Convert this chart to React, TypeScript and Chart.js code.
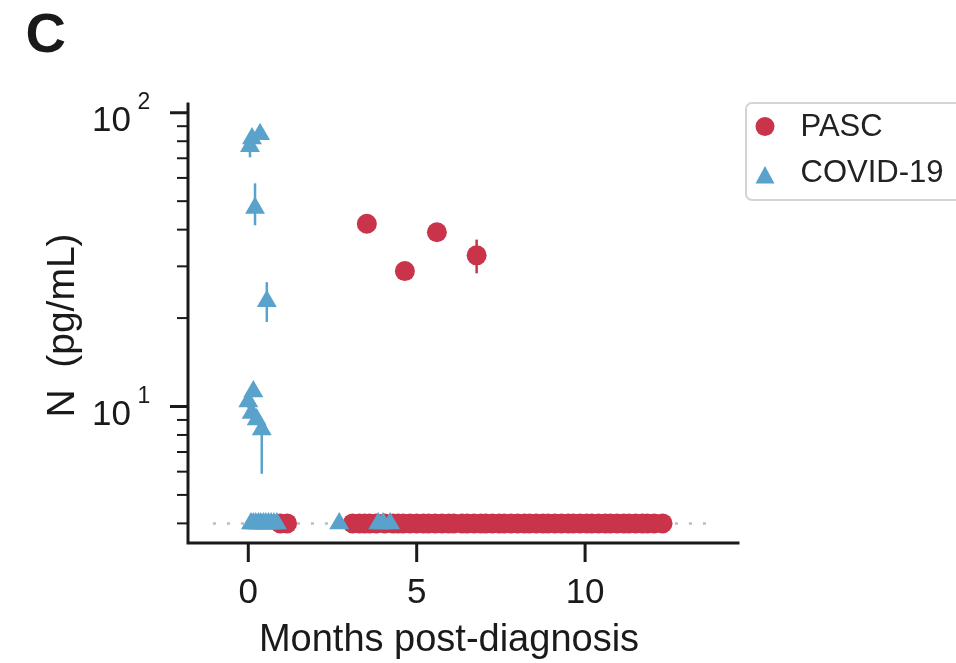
import React, { useEffect, useRef } from 'react';
import { Chart, registerables } from 'chart.js';

Chart.register(...registerables);

// ---------- text ----------
const PANEL_LABEL = 'C';
const X_TITLE = 'Months post-diagnosis';
const Y_TITLE = 'N  (pg/mL)';
const SERIES_NAMES = ['PASC', 'COVID-19'];

// ---------- axes ----------
const X_MIN = -1.79;
const X_MAX = 14.54;
const Y_MIN = 3.43;
const Y_MAX = 107.1;
const X_TICKS = [0, 5, 10];
const Y_MAJOR = [10, 100];
const Y_MAJOR_EXP = ['1', '2'];
const Y_MINOR = [4, 5, 6, 7, 8, 9, 20, 30, 40, 50, 60, 70, 80, 90];

// ---------- limit of detection ----------
const LOD = 4;
const LOD_X = [-1.05, 13.6];

// ---------- PASC (circles) ----------
const PASC_X = [3.52, 4.65, 5.6, 6.78];
const PASC_Y = [41.9, 28.9, 39.2, 32.7];
const PASC_LO = [41.9, 28.9, 39.2, 28.4];
const PASC_HI = [41.9, 28.9, 39.2, 37.0];
const PASC_LOD_X = [
  0.95, 1.15, 3.1, 3.3, 3.45, 3.6, 3.8, 4.05, 4.3, 4.45, 4.6, 4.8, 5.0, 5.2, 5.35, 5.55,
  5.75, 5.95, 6.1, 6.35, 6.5, 6.7, 6.9, 7.05, 7.25, 7.45, 7.6, 7.8, 8.0, 8.2, 8.35, 8.55,
  8.75, 8.9, 9.1, 9.3, 9.5, 9.65, 9.85, 10.05, 10.2, 10.4, 10.6, 10.75, 10.95, 11.15,
  11.3, 11.5, 11.7, 11.85, 12.05, 12.3,
];

// ---------- COVID-19 (triangles) ----------
const COVID_X = [0.05, 0.11, 0.35, 0.2, 0.55, 0.0, 0.15, 0.1, 0.25, 0.4];
const COVID_Y = [76.9, 81.8, 84.5, 47.4, 22.8, 10.4, 11.25, 9.5, 9.03, 8.35];
const COVID_LO = [70.5, 79.0, 82.0, 41.4, 19.4, 9.9, 10.9, 9.2, 8.7, 5.9];
const COVID_HI = [83.0, 84.5, 87.0, 57.5, 26.5, 10.9, 11.6, 9.8, 9.4, 9.0];
const COVID_LOD_X = [0.08, 0.15, 0.22, 0.3, 0.37, 0.45, 0.52, 0.6, 0.68, 0.76, 0.85, 2.7, 3.86, 4.0, 4.21];

// ---------- styles ----------
const RED = '#c9344a';
const BLUE = '#59a2cc';
const LOD_COLOR = '#b5bfc6';
const INK = '#1a1a1a';
const FONT = '"Liberation Sans", Arial, sans-serif';

const errorBars = [
  { xs: PASC_X, lo: PASC_LO, hi: PASC_HI, color: RED },
  { xs: COVID_X, lo: COVID_LO, hi: COVID_HI, color: BLUE },
];

const decorPlugin = {
  id: 'decor',
  beforeDatasetsDraw(chart: any) {
    const { ctx, scales } = chart;
    const xs = scales.x;
    const ys = scales.y;
    ctx.save();
    ctx.lineWidth = 2.5;
    ctx.lineCap = 'butt';
    errorBars.forEach((s) => {
      ctx.strokeStyle = s.color;
      s.xs.forEach((xv, i) => {
        if (s.hi[i] === s.lo[i]) return;
        const px = xs.getPixelForValue(xv);
        ctx.beginPath();
        ctx.moveTo(px, ys.getPixelForValue(s.lo[i]));
        ctx.lineTo(px, ys.getPixelForValue(s.hi[i]));
        ctx.stroke();
      });
    });
    ctx.restore();
  },
  afterDraw(chart: any) {
    const { ctx, chartArea, scales } = chart;
    const xs = scales.x;
    const ys = scales.y;
    const { left, right, top, bottom } = chartArea;
    ctx.save();
    ctx.strokeStyle = INK;
    ctx.fillStyle = INK;

    // spines
    ctx.lineWidth = 3;
    ctx.lineCap = 'square';
    ctx.beginPath();
    ctx.moveTo(left, top);
    ctx.lineTo(left, bottom);
    ctx.lineTo(right, bottom);
    ctx.stroke();
    ctx.lineCap = 'butt';

    // x ticks + labels
    ctx.font = `35px ${FONT}`;
    ctx.textAlign = 'center';
    ctx.textBaseline = 'alphabetic';
    X_TICKS.forEach((v) => {
      const px = xs.getPixelForValue(v);
      ctx.lineWidth = 3;
      ctx.beginPath();
      ctx.moveTo(px, bottom);
      ctx.lineTo(px, bottom + 19);
      ctx.stroke();
      ctx.fillText(String(v), px, 602.5);
    });

    // y minor ticks
    ctx.lineWidth = 2;
    Y_MINOR.forEach((v) => {
      const py = ys.getPixelForValue(v);
      ctx.beginPath();
      ctx.moveTo(left - 11, py);
      ctx.lineTo(left, py);
      ctx.stroke();
    });
    // y major ticks + labels
    Y_MAJOR.forEach((v, i) => {
      const py = ys.getPixelForValue(v);
      ctx.lineWidth = 3;
      ctx.beginPath();
      ctx.moveTo(left - 18, py);
      ctx.lineTo(left, py);
      ctx.stroke();
      ctx.font = `35px ${FONT}`;
      ctx.textAlign = 'right';
      ctx.fillText('10', 131, py + 18.5);
      ctx.font = `23px ${FONT}`;
      ctx.textAlign = 'left';
      ctx.fillText(Y_MAJOR_EXP[i], 137.5, py - 3.5);
    });

    // x title
    ctx.font = `38px ${FONT}`;
    ctx.textAlign = 'center';
    ctx.fillText(X_TITLE, 449, 651);

    // y title
    ctx.save();
    ctx.translate(73.5, 325.5);
    ctx.rotate(-Math.PI / 2);
    ctx.font = `39px ${FONT}`;
    ctx.textAlign = 'center';
    ctx.fillText(Y_TITLE, 0, 0);
    ctx.restore();

    // panel label
    ctx.font = `bold 56px ${FONT}`;
    ctx.textAlign = 'left';
    ctx.fillText(PANEL_LABEL, 25.5, 51.5);

    // legend
    ctx.lineWidth = 2;
    ctx.strokeStyle = '#d4d4d4';
    ctx.fillStyle = '#ffffff';
    ctx.beginPath();
    (ctx as any).roundRect(746, 103, 230, 97, 6);
    ctx.fill();
    ctx.stroke();

    ctx.fillStyle = RED;
    ctx.beginPath();
    ctx.arc(765, 126.5, 9.5, 0, Math.PI * 2);
    ctx.fill();

    ctx.fillStyle = BLUE;
    ctx.beginPath();
    ctx.moveTo(765, 166);
    ctx.lineTo(774.5, 183.5);
    ctx.lineTo(755.5, 183.5);
    ctx.closePath();
    ctx.fill();

    ctx.fillStyle = '#222';
    ctx.font = `31px ${FONT}`;
    ctx.textAlign = 'left';
    ctx.fillText(SERIES_NAMES[0], 800.5, 136);
    ctx.fillText(SERIES_NAMES[1], 800.5, 181.5);

    ctx.restore();
  },
};

export default function App() {
  const ref = useRef<HTMLCanvasElement | null>(null);

  useEffect(() => {
    if (!ref.current) return;
    const pascPts = [
      ...PASC_X.map((x, i) => ({ x, y: PASC_Y[i] })),
      ...PASC_LOD_X.map((x) => ({ x, y: LOD })),
    ];
    const covidPts = [
      ...COVID_X.map((x, i) => ({ x, y: COVID_Y[i] })),
      ...COVID_LOD_X.map((x) => ({ x, y: LOD })),
    ];
    const lodPts = LOD_X.map((x) => ({ x, y: LOD }));

    const chart = new Chart(ref.current, {
      type: 'scatter',
      data: {
        datasets: [
          {
            label: SERIES_NAMES[1],
            data: covidPts,
            pointStyle: 'triangle',
            pointRadius: 11.5,
            pointBackgroundColor: BLUE,
            pointBorderColor: BLUE,
            pointBorderWidth: 0,
            backgroundColor: BLUE,
            borderColor: BLUE,
          } as any,
          {
            label: SERIES_NAMES[0],
            data: pascPts,
            pointStyle: 'circle',
            pointRadius: 10,
            pointBackgroundColor: RED,
            pointBorderColor: RED,
            pointBorderWidth: 0,
            backgroundColor: RED,
            borderColor: RED,
          } as any,
          {
            label: 'LOD',
            data: lodPts,
            showLine: true,
            borderColor: LOD_COLOR,
            borderWidth: 2.5,
            borderDash: [3, 11],
            pointRadius: 0,
          } as any,
        ],
      },
      options: {
        responsive: false,
        animation: false,
        events: [],
        layout: { padding: { left: 188, right: 956 - 738, top: 104, bottom: 663 - 543 } },
        plugins: { legend: { display: false }, tooltip: { enabled: false } },
        scales: {
          x: { type: 'linear', display: false, min: X_MIN, max: X_MAX, bounds: 'data' },
          y: { type: 'logarithmic', display: false, min: Y_MIN, max: Y_MAX, bounds: 'data' },
        },
      } as any,
      plugins: [decorPlugin],
    });
    return () => chart.destroy();
  }, []);

  return (
    <div style={{ position: 'fixed', left: 0, top: 0, width: 956, height: 663, background: '#fff' }}>
      <canvas ref={ref} width={956} height={663} style={{ display: 'block' }} />
    </div>
  );
}
